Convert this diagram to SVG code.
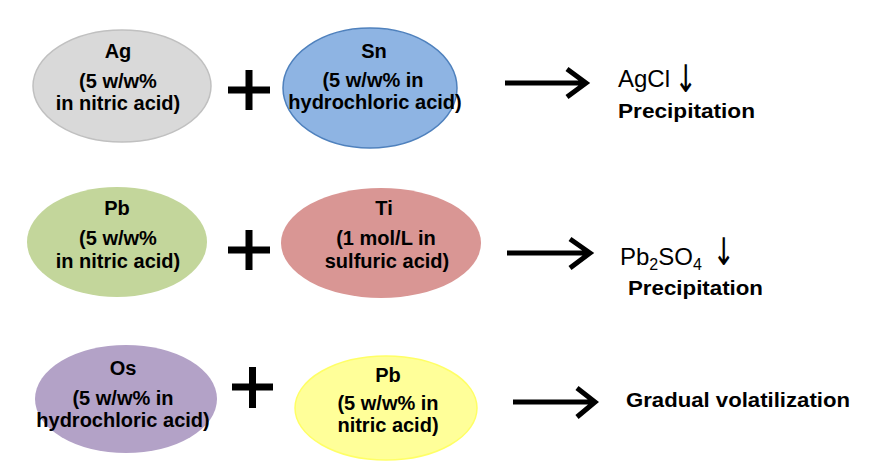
<svg xmlns="http://www.w3.org/2000/svg" width="873" height="468" viewBox="0 0 873 468">
<style>
.t{font-family:"Liberation Sans",Arial,sans-serif;font-weight:bold;font-size:20px;fill:#000;text-anchor:middle}
.r{font-family:"Liberation Sans",Arial,sans-serif;font-weight:bold;font-size:21px;fill:#000}
.f{font-family:"Liberation Sans",Arial,sans-serif;font-size:24px;fill:#000}
.dn{font-family:"DejaVu Sans",sans-serif;font-size:38px;fill:#000;text-anchor:middle}
.plus{stroke:#000;stroke-width:7;fill:none}
.arr{stroke:#000;stroke-width:5;fill:none}
</style>
<rect width="873" height="468" fill="#fff"/>
<g id="ag">
<ellipse cx="122" cy="86" rx="89" ry="56" fill="#d9d9d9" stroke="#c0c0c0" stroke-width="1.5"/>
<text class="t" x="118" y="58">Ag</text>
<text class="t" x="118" y="88">(5 w/w%</text>
<text class="t" x="118" y="110">in nitric acid)</text>
</g>
<g id="sn">
<ellipse cx="370" cy="88" rx="87" ry="60" fill="#8eb4e3" stroke="#4f81bd" stroke-width="1.5"/>
<text class="t" x="374" y="58">Sn</text>
<text class="t" x="373" y="87">(5 w/w% in</text>
<text class="t" x="375" y="109">hydrochloric acid)</text>
</g>
<g id="pb1">
<ellipse cx="117" cy="242" rx="90" ry="55" fill="#c3d69b"/>
<text class="t" x="117" y="215">Pb</text>
<text class="t" x="118" y="245">(5 w/w%</text>
<text class="t" x="118" y="268">in nitric acid)</text>
</g>
<g id="ti">
<ellipse cx="381" cy="243" rx="100" ry="55" fill="#d99694"/>
<text class="t" x="384" y="215">Ti</text>
<text class="t" x="386" y="245">(1 mol/L in</text>
<text class="t" x="387" y="268">sulfuric acid)</text>
</g>
<g id="os">
<ellipse cx="126" cy="399" rx="91" ry="54" fill="#b3a2c7"/>
<text class="t" x="123" y="375">Os</text>
<text class="t" x="123" y="405">(5 w/w% in</text>
<text class="t" x="123" y="427">hydrochloric acid)</text>
</g>
<g id="pb2">
<ellipse cx="386" cy="408" rx="91" ry="52" fill="#ffff99" stroke="#ffff66" stroke-width="1.5"/>
<text class="t" x="388" y="382">Pb</text>
<text class="t" x="388" y="410">(5 w/w% in</text>
<text class="t" x="388" y="432">nitric acid)</text>
</g>
<g id="plus">
<path class="plus" d="M228 90H270M249 70V110"/>
<path class="plus" d="M228 250H270M249 230V270"/>
<path class="plus" d="M232 387H273M252.5 367V408"/>
</g>
<g id="connectors">
<path class="arr" d="M505 83H586M567 69L586 83L567 97"/>
<path class="arr" d="M507 253H590M570 239L590 253L570 268"/>
<path class="arr" d="M513 402H595M577 388L595 402L577 417"/>
</g>
<g id="res1">
<text class="f" x="618" y="87">AgCl</text>
<text class="dn" x="686" y="92" transform="translate(686 0) scale(0.7 1) translate(-686 0)">↓</text>
<text class="r" x="618" y="118" textLength="137" lengthAdjust="spacingAndGlyphs">Precipitation</text>
</g>
<g id="res2">
<text class="f" x="620" y="265">Pb<tspan font-size="16" dy="5">2</tspan><tspan dy="-5">SO</tspan><tspan font-size="16" dy="5">4</tspan></text>
<text class="dn" x="724" y="265" transform="translate(724 0) scale(0.7 1) translate(-724 0)">↓</text>
<text class="r" x="628" y="295" textLength="135" lengthAdjust="spacingAndGlyphs">Precipitation</text>
</g>
<g id="res3">
<text class="r" x="626" y="407" textLength="224" lengthAdjust="spacingAndGlyphs">Gradual volatilization</text>
</g>
</svg>
